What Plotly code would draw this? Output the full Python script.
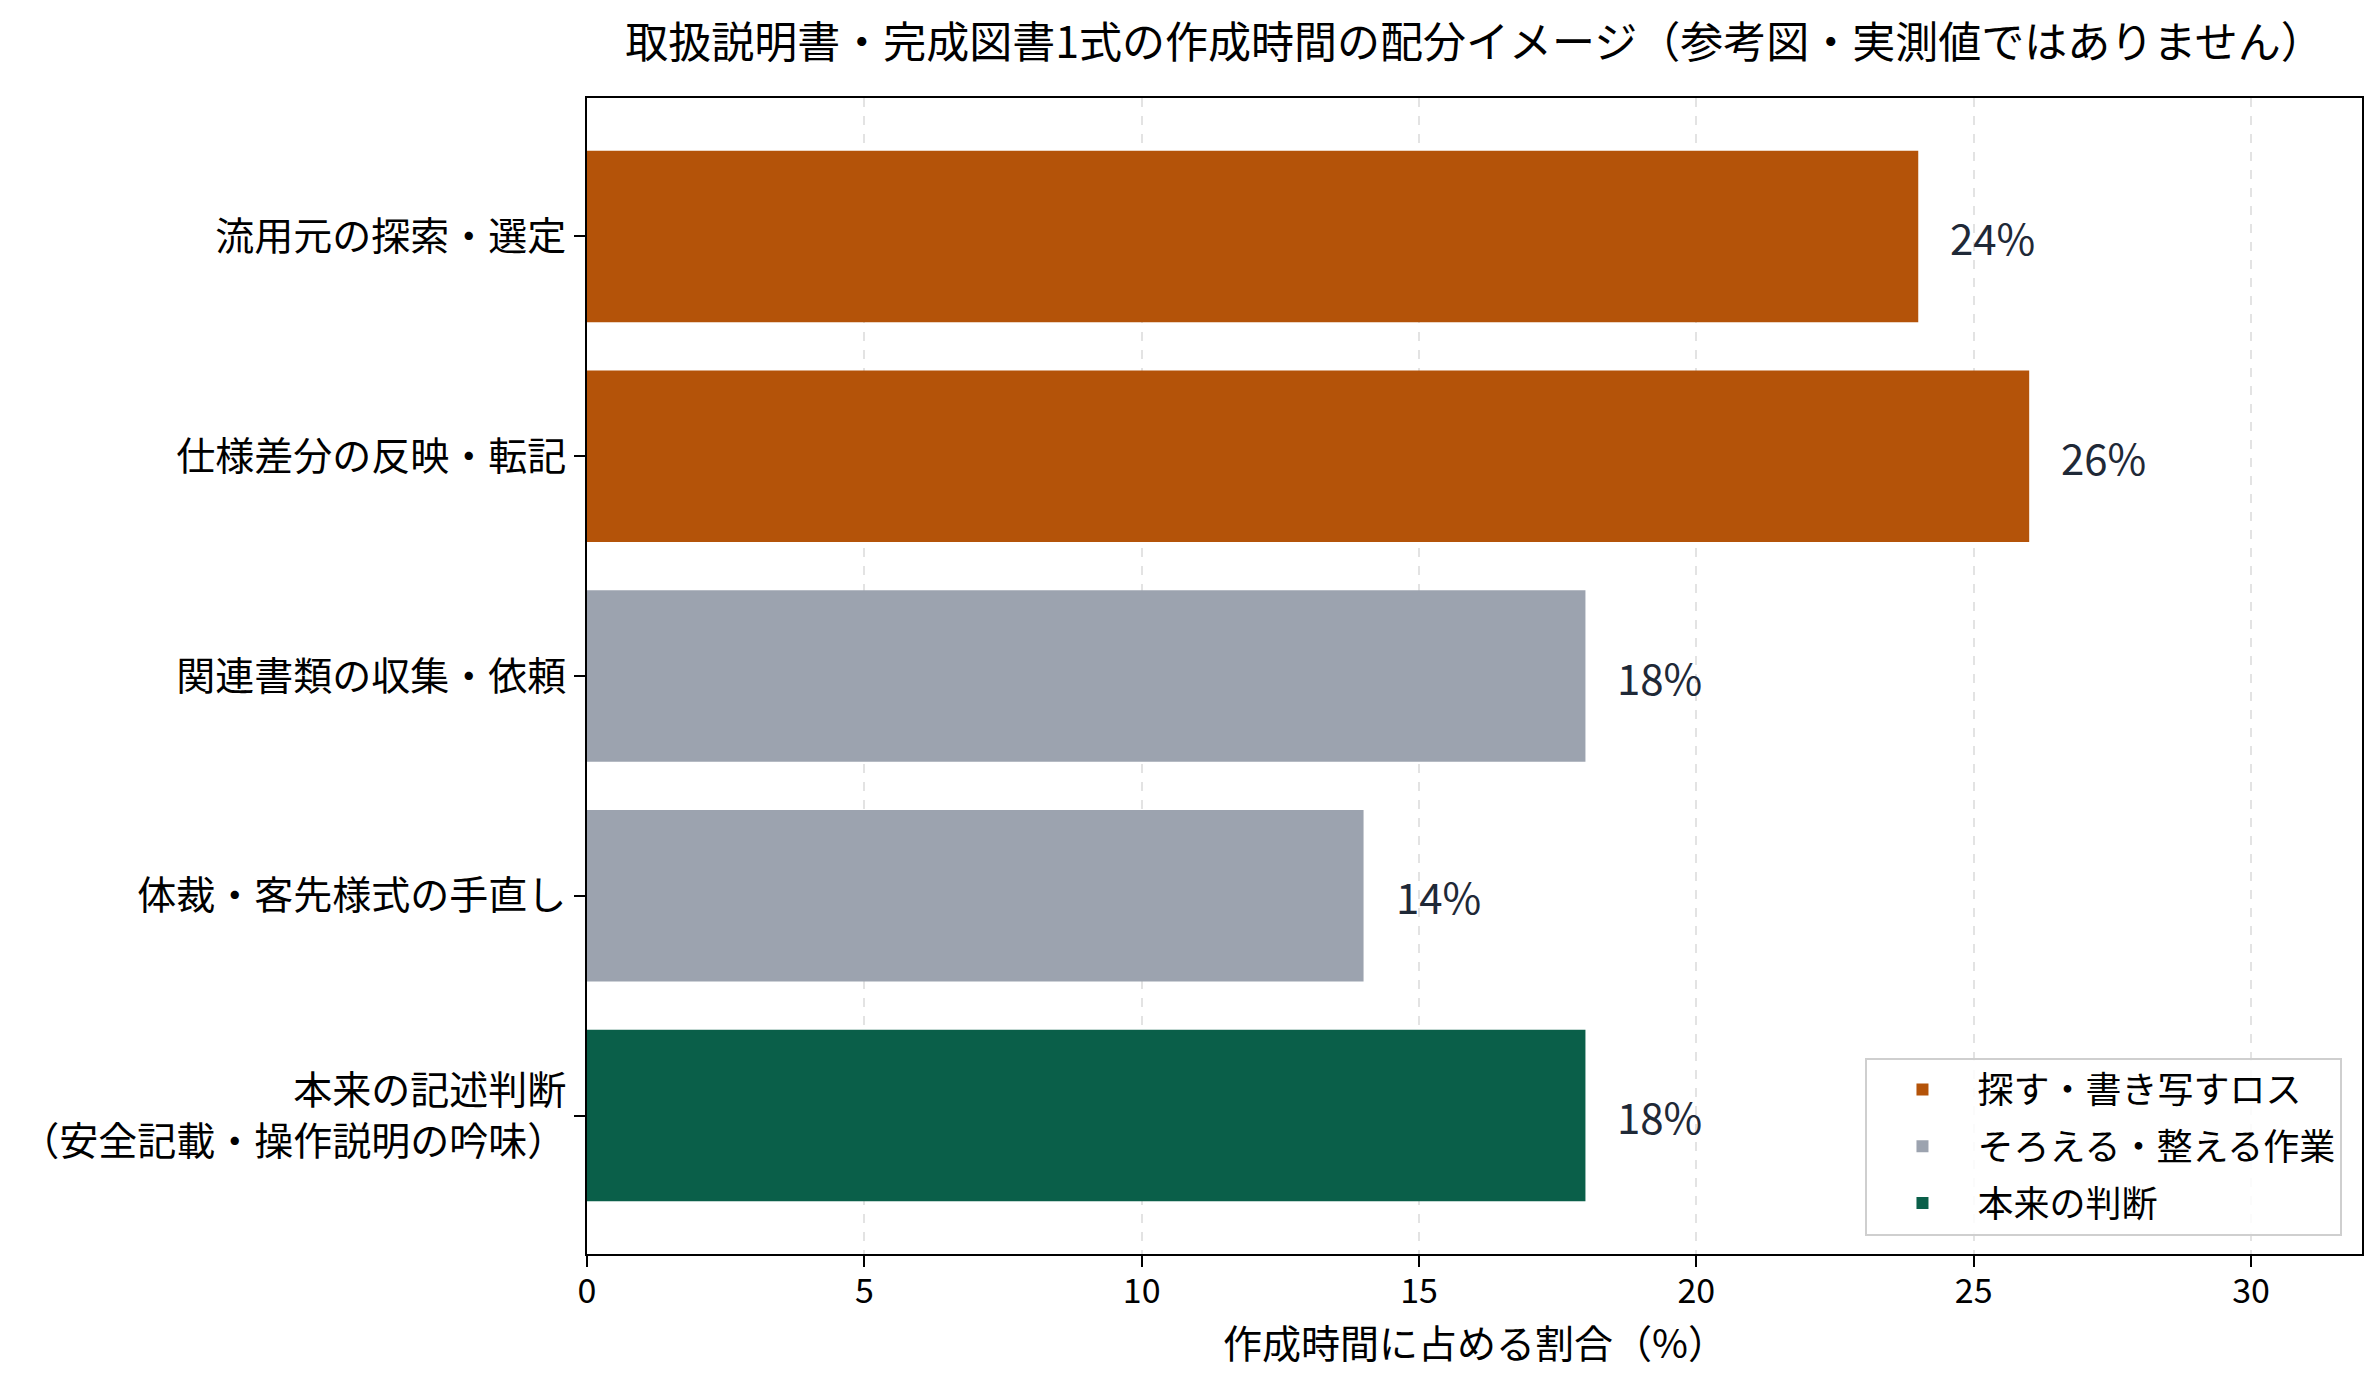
import plotly.graph_objects as go

# categories (top to bottom) and their share of working time (%)
categories = [
    "流用元の探索・選定",
    "仕様差分の反映・転記",
    "関連書類の収集・依頼",
    "体裁・客先様式の手直し",
    "本来の記述判断<br>（安全記載・操作説明の吟味）",
]
values = [24, 26, 18, 14, 18]
groups = [0, 0, 1, 1, 2]

group_names = ["探す・書き写すロス", "そろえる・整える作業", "本来の判断"]
group_colors = ["#b45309", "#9ca3af", "#0a5f49"]

FONT = "Noto Sans CJK JP"

fig = go.Figure()

for g, name in enumerate(group_names):
    ys = [c for c, gg in zip(categories, groups) if gg == g]
    xs = [v for v, gg in zip(values, groups) if gg == g]
    fig.add_trace(go.Bar(
        x=xs, y=ys, orientation="h", name=name, legendgroup=f"g{g}",
        marker=dict(color=group_colors[g], line=dict(width=0)),
        width=0.78,
    ))

# value labels to the right of each bar
for c, v in zip(categories, values):
    fig.add_annotation(
        x=v, y=c, text=f"{v}%", showarrow=False,
        xanchor="left", yanchor="middle", xshift=30,
        font=dict(family=FONT, size=42, color="#1f2937"),
    )

# x axis title, placed just under the tick labels
fig.add_annotation(
    text="作成時間に占める割合（%）", x=0.5, y=0, xref="paper", yref="paper",
    xanchor="center", yanchor="middle", yshift=-87, showarrow=False,
    font=dict(family=FONT, size=39, color="black"),
)

# page body has an 8px margin, so the figure is 8px smaller than the window
fig.update_layout(
    width=2371, height=1372,
    margin=dict(l=576, r=17, t=90, b=126),
    paper_bgcolor="white", plot_bgcolor="white",
    barmode="overlay",
    font=dict(family=FONT, color="black"),
    title=dict(
        text="取扱説明書・完成図書1式の作成時間の配分イメージ（参考図・実測値ではありません）",
        x=0.5, xref="paper", y=1 - 35 / 1372, yref="container",
        xanchor="center", yanchor="middle",
        font=dict(family=FONT, size=43, color="black"),
    ),
    legend=dict(
        x=0.989, y=0.016, xanchor="right", yanchor="bottom",
        bgcolor="rgba(255,255,255,0.85)", bordercolor="#cfcfcf", borderwidth=2,
        font=dict(family=FONT, size=36, color="black"),
        itemwidth=100, tracegroupgap=7,
    ),
    showlegend=True,
)

fig.update_xaxes(
    range=[0, 32], tickmode="array", tickvals=[0, 5, 10, 15, 20, 25, 30],
    showgrid=True, gridcolor="#e3e3e3", gridwidth=2, griddash="dash",
    showline=True, linecolor="black", linewidth=2, mirror=True,
    ticks="outside", ticklen=11, tickwidth=2, tickcolor="black",
    ticklabelstandoff=-5,
    tickfont=dict(family=FONT, size=34, color="black"),
    zeroline=False,
)

fig.update_yaxes(
    type="category", categoryorder="array", categoryarray=categories,
    range=[4.63, -0.63],
    showgrid=False,
    showline=True, linecolor="black", linewidth=2, mirror=True,
    ticks="outside", ticklen=11, tickwidth=2, tickcolor="black",
    tickfont=dict(family=FONT, size=39, color="black"),
)

fig.write_html("out.html")
